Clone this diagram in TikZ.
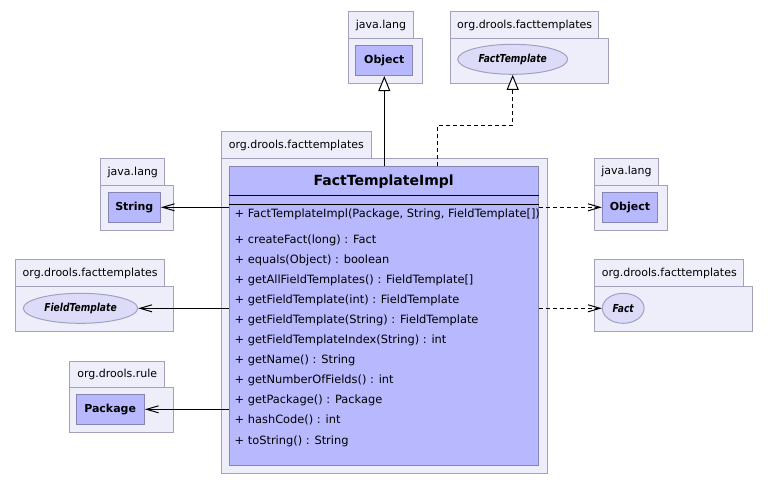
\documentclass[tikz,border=0pt]{standalone}
\usepackage{fontspec}
\setmainfont{DejaVu Sans}
\newfontfamily\narrowfont[FakeStretch=0.83]{DejaVu Sans}
\usetikzlibrary{arrows.meta,shapes.geometric}
\definecolor{pkgfill}{HTML}{EEEEFA}
\definecolor{pkgline}{HTML}{A2A2BC}
\definecolor{clsfill}{HTML}{B8B8FE}
\definecolor{clsline}{HTML}{8585B0}
\definecolor{ellfill}{HTML}{DCDCF8}
\definecolor{ellline}{HTML}{A0A0C4}
\tikzset{
  pkgtab/.style={draw=pkgline, fill=pkgfill, line width=1pt, anchor=north west, inner sep=0pt,
    minimum height=27.3pt, font=\fontsize{11}{13}\selectfont},
  pkgbody/.style={draw=pkgline, fill=pkgfill, line width=1pt, anchor=north west, inner sep=0pt,
    minimum height=45pt},
  clsbox/.style={draw=clsline, fill=clsfill, line width=1pt, inner sep=0pt, minimum height=30.5pt,
    font=\fontsize{11}{13}\selectfont\bfseries},
  ifbox/.style={ellipse, draw=ellline, fill=ellfill, line width=1pt, inner sep=0pt, minimum height=30pt,
    font=\narrowfont\fontsize{11}{13}\selectfont\bfseries\itshape},
  mth/.style={anchor=west, inner sep=0pt, text height=8.5pt, text depth=2.5pt,
    font=\fontsize{11.4}{13}\selectfont},
  assoc/.style={line width=1pt, -{Straight Barb[length=12pt,width=7pt]}},
  dep/.style={line width=1pt, dash pattern=on 4pt off 3pt, -{Straight Barb[length=12pt,width=7pt]}},
  gen/.style={line width=1pt, -{Triangle[length=15pt,width=12pt,fill=white]}},
  real/.style={line width=1pt, dash pattern=on 4pt off 3pt, -{Triangle[length=15pt,width=12pt,fill=white]}},
}
\begin{document}
\begin{tikzpicture}[x=1pt,y=-1pt]
\useasboundingbox[fill=white] (0,0) rectangle (770,485);

% top java.lang / Object
\node[pkgtab, minimum width=64.4pt] (tabObjT) at (348.3,11) {java.lang};
\node[pkgbody, minimum width=73.4pt] (bodyObjT) at (348.3,38.3) {};
\node[clsbox, minimum width=56.7pt] (objT) at (384.3,60.3) {Object};

% top org.drools.facttemplates / FactTemplate
\node[pkgtab, minimum width=148.3pt] (tabFT) at (450,11) {org.drools.facttemplates};
\node[pkgbody, minimum width=158.3pt] (bodyFT) at (450,38.3) {};
\node[ifbox, minimum width=110pt] (ftT) at (512.7,59.3) {FactTemplate};

% main package
\node[pkgtab, minimum width=149.7pt] (tabMain) at (221,131) {org.drools.facttemplates};
\node[pkgbody, minimum width=325.7pt, minimum height=314.4pt] (bodyMain) at (221,158.3) {};
\node[draw=clsline, fill=clsfill, line width=1pt, inner sep=0pt, minimum width=309.3pt, minimum height=299pt] (cls) at (383.65,315.5) {};
\node[inner sep=0pt, font=\fontsize{14}{16}\selectfont\bfseries] (title) at (383.65,181.5) {FactTemplateImpl};
\draw[line width=1pt] (cls.west |- 0,195) -- (cls.east |- 0,195);
\draw[line width=1pt] (cls.west |- 0,204.5) -- (cls.east |- 0,204.5);
\node[mth] (m0) at (234.5,214) {+ FactTemplateImpl(Package, String, FieldTemplate[])};
\node[mth] (m1) at (234.5,240) {+ createFact(long) : Fact};
\node[mth] (m2) at (234.5,260.1) {+ equals(Object) : boolean};
\node[mth] (m3) at (234.5,280.2) {+ getAllFieldTemplates() : FieldTemplate[]};
\node[mth] (m4) at (234.5,300.3) {+ getFieldTemplate(int) : FieldTemplate};
\node[mth] (m5) at (234.5,320.4) {+ getFieldTemplate(String) : FieldTemplate};
\node[mth] (m6) at (234.5,340.5) {+ getFieldTemplateIndex(String) : int};
\node[mth] (m7) at (234.5,360.6) {+ getName() : String};
\node[mth] (m8) at (234.5,380.7) {+ getNumberOfFields() : int};
\node[mth] (m9) at (234.5,400.8) {+ getPackage() : Package};
\node[mth] (m10) at (234.5,420.9) {+ hashCode() : int};
\node[mth] (m11) at (234.5,441) {+ toString() : String};

% left: String
\node[pkgtab, minimum width=64pt] (tabStr) at (100.3,158.3) {java.lang};
\node[pkgbody, minimum width=73pt] (bodyStr) at (100.3,185) {};
\node[clsbox, minimum width=52pt] (strB) at (134.3,207.3) {String};

% left: FieldTemplate
\node[pkgtab, minimum width=149.3pt] (tabFld) at (15,259.3) {org.drools.facttemplates};
\node[pkgbody, minimum width=158.3pt] (bodyFld) at (15,286) {};
\node[ifbox, minimum width=114.4pt] (fieldE) at (80.5,308.3) {FieldTemplate};

% left: Package
\node[pkgtab, minimum width=95pt] (tabPkg) at (69.3,360.7) {org.drools.rule};
\node[pkgbody, minimum width=104pt] (bodyPkg) at (69.3,387.3) {};
\node[clsbox, minimum width=68.3pt] (pkgB) at (110.15,409.3) {Package};

% right: Object
\node[pkgtab, minimum width=63.4pt] (tabObjR) at (594.3,157.7) {java.lang};
\node[pkgbody, minimum width=73pt] (bodyObjR) at (594.3,185) {};
\node[clsbox, minimum width=55.4pt] (objR) at (630,207.3) {Object};

% right: Fact
\node[pkgtab, minimum width=149pt] (tabFact) at (594.3,259.3) {org.drools.facttemplates};
\node[pkgbody, minimum width=158pt] (bodyFact) at (594.3,286) {};
\node[ifbox, minimum width=41.7pt] (factE) at (623.2,308.3) {Fact};

% connectors
\draw[gen] (cls.north -| objT.south) -- (objT.south);
\draw[real] ([xshift=53.65pt]cls.north) -- ++(0,-40) -| (ftT.south);
\draw[assoc] (cls.west |- strB) -- (strB.east);
\draw[assoc] (cls.west |- fieldE) -- (fieldE.east);
\draw[assoc] (cls.west |- pkgB) -- (pkgB.east);
\draw[dep] (cls.east |- objR) -- (objR.west);
\draw[dep] (cls.east |- factE) -- (factE.west);
\end{tikzpicture}
\end{document}
